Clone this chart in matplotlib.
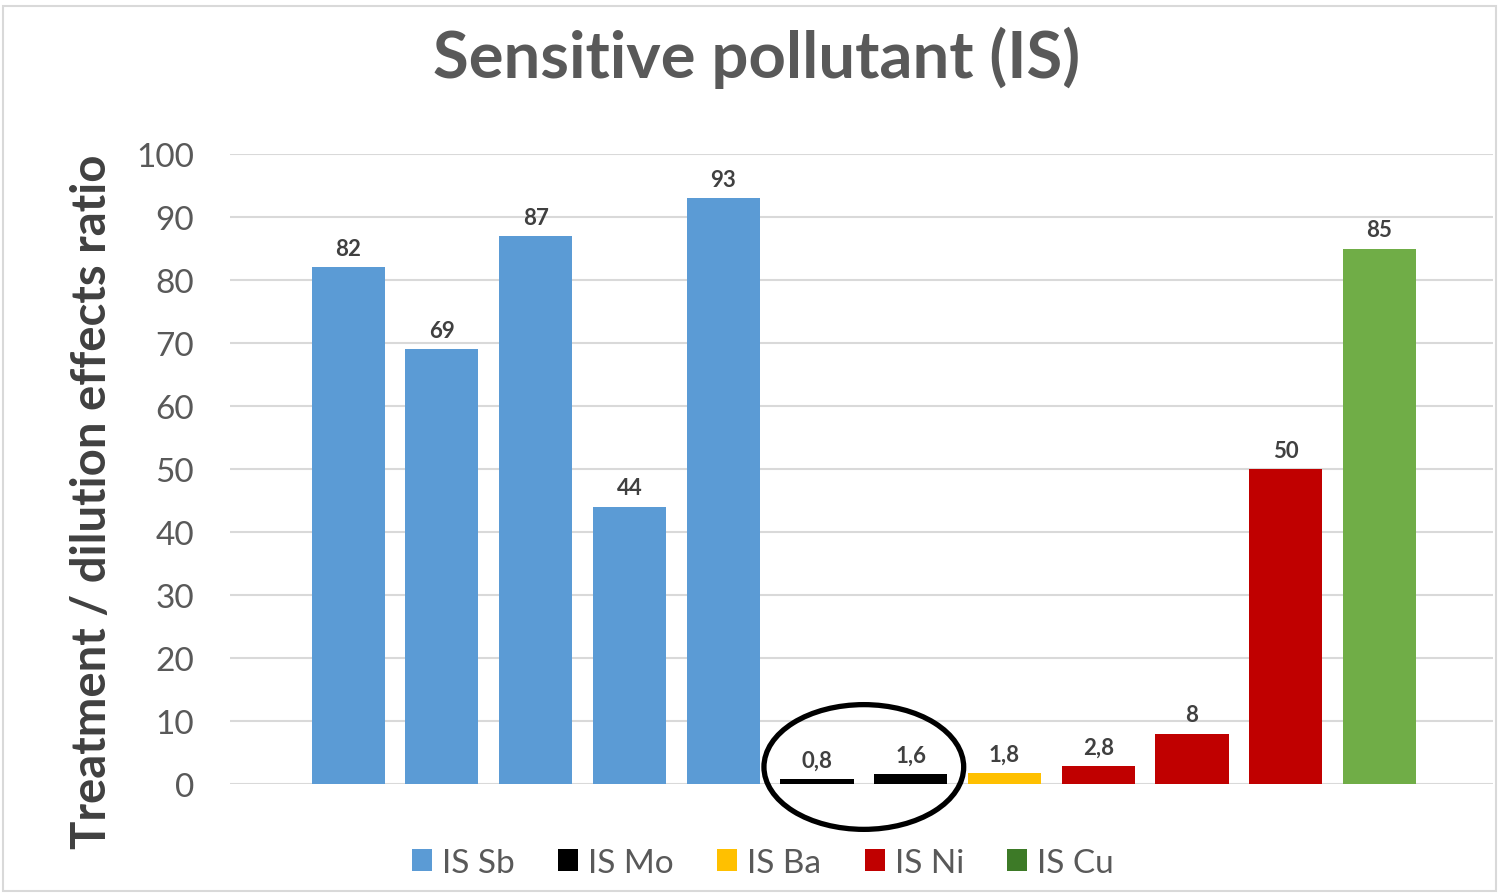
import numpy as np
import matplotlib.pyplot as plt
from matplotlib.patches import Ellipse, Rectangle, Patch

plt.rcParams['font.family'] = ['Lato', 'DejaVu Sans']

# data
groups = ["IS Sb", "IS Sb", "IS Sb", "IS Sb", "IS Sb",
          "IS Mo", "IS Mo", "IS Ba", "IS Ni", "IS Ni", "IS Ni", "IS Cu"]
values = [82, 69, 87, 44, 93, 0.8, 1.6, 1.8, 2.8, 8, 50, 85]
labels = ["82", "69", "87", "44", "93", "0,8", "1,6", "1,8", "2,8", "8", "50", "85"]

legend_names = ["IS Sb", "IS Mo", "IS Ba", "IS Ni", "IS Cu"]
bar_colors = {"IS Sb": "#5B9BD5", "IS Mo": "#000000", "IS Ba": "#FFC000",
              "IS Ni": "#C00000", "IS Cu": "#70AD47"}
legend_colors = {"IS Sb": "#5B9BD5", "IS Mo": "#000000", "IS Ba": "#FFC000",
                 "IS Ni": "#C00000", "IS Cu": "#3D7A27"}

fig = plt.figure(figsize=(14.99, 8.95), dpi=100)
ax = fig.add_axes([0.1534, 0.1229, 0.8426, 0.7039])

x = np.arange(len(values))
ax.bar(x, values, width=0.78, color=[bar_colors[g] for g in groups], zorder=3)

for xi, v, lab in zip(x, values, labels):
    ax.annotate(lab, (xi, v), xytext=(0, 6), textcoords="offset points",
                ha="center", va="bottom", fontsize=16, color="#404040",
                fontweight="bold")

ax.set_ylim(0, 100)
ax.set_xlim(-1.26, len(values) - 1 + 1.21)
ax.set_yticks(np.arange(0, 101, 10))
ax.set_xticks([])
ax.grid(axis="y", color="#D9D9D9", linewidth=1.5, zorder=0)
for s in ax.spines.values():
    s.set_visible(False)
ax.tick_params(axis="y", length=0, pad=26, labelsize=24, labelcolor="#595959")

ax.set_ylabel("Treatment / dilution effects ratio", fontsize=34, color="#404040",
              fontweight="bold")
ax.yaxis.set_label_coords(-0.109, 0.449)
ax.yaxis.label.set_va("center")

fig.text(0.505, 0.935, "Sensitive pollutant (IS)", ha="center", va="center",
         fontsize=47, color="#595959", fontweight="bold")

# circle around the Mo bars
mo_idx = [i for i, g in enumerate(groups) if g == "IS Mo"]
ax.add_patch(Ellipse((np.mean(mo_idx), 2.7), 2.13, 19.8, fill=False,
                     edgecolor="black", linewidth=3.8, clip_on=False, zorder=5))

handles = [Patch(facecolor=legend_colors[n], label=n) for n in legend_names]
fig.legend(handles=handles, loc="center", bbox_to_anchor=(0.509, 0.035), ncol=5,
           frameon=False, fontsize=24, handlelength=0.6, handleheight=0.6,
           handletextpad=0.3, columnspacing=1.3, labelcolor="#595959")

fig.patches.append(Rectangle((0.002, 0.003), 0.996, 0.989, transform=fig.transFigure,
                             fill=False, edgecolor="#D9D9D9", linewidth=1.5))

fig.savefig("out.png", dpi=100)
